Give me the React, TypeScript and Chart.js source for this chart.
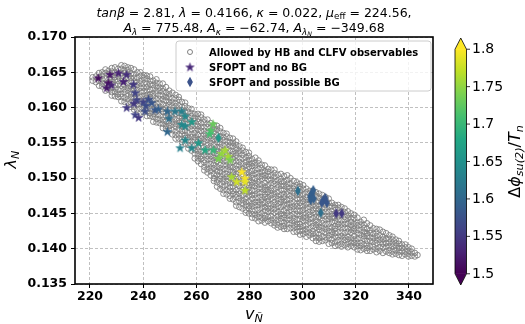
import React, { useEffect, useRef } from "react";
import { Chart, registerables } from "chart.js";
Chart.register(...registerables);

// ---------------- data ----------------
const xTicks = [220, 240, 260, 280, 300, 320, 340];
const yTicks = [0.135, 0.14, 0.145, 0.15, 0.155, 0.16, 0.165, 0.17];
const cbarTicks = [1.5, 1.55, 1.6, 1.65, 1.7, 1.75, 1.8];
const xRange = [214.36, 349.03];
const yRange = [0.135, 0.17];
const cRange = [1.5, 1.8];

const legendLabels = [
  "Allowed by HB and CLFV observables",
  "SFOPT and no BG",
  "SFOPT and possible BG",
];

// gray points (allowed by HB and CLFV), grouped by v column: [v, [lambda...]]
const grayA: [number, number[]][] = [
  [221.0, [.1638, .1643]],
  [222.2, [.1636, .1644]],
  [223.4, [.1631, .1638, .1643, .1649]],
  [224.6, [.163, .1634, .164, .1645, .165]],
  [225.8, [.1624, .1631, .1635, .1641, .1649, .1654]],
  [227.0, [.1625, .163, .1636, .164, .1647, .1652]],
  [228.2, [.1617, .1622, .1628, .1636, .164, .1646, .1651, .1656]],
  [229.4, [.1616, .1622, .1627, .1632, .1639, .1643, .1649, .1657]],
  [230.6, [.1615, .1619, .1625, .1633, .1638, .1644, .1648, .1655]],
  [231.8, [.1609, .1615, .1619, .1626, .1631, .1637, .1645, .1649, .1655, .166]],
  [233.0, [.1608, .1614, .1622, .1626, .1632, .1637, .1642, .1649, .1653, .1659]],
  [234.2, [.1607, .1612, .1617, .1624, .1628, .1634, .1642, .1647, .1653, .1657]],
  [235.4, [.1601, .1607, .1615, .162, .1626, .163, .1637, .1642, .1648, .1656]],
  [236.6, [.1597, .1601, .1608, .1613, .1619, .1627, .1631, .1637, .1642, .1647, .1654]],
  [237.8, [.1597, .1605, .1609, .1615, .162, .1625, .1632, .1636, .1642, .165]],
  [239.0, [.1593, .1598, .1605, .1609, .1615, .1623, .1628, .1634, .1638, .1645, .165]],
  [240.2, [.1593, .1601, .1606, .1612, .1616, .1623, .1628, .1634, .1642, .1646]],
  [241.4, [.1588, .1595, .16, .1606, .1614, .1618, .1624, .1629, .1634, .1641, .1645]],
  [242.6, [.1588, .1592, .1598, .1603, .1608, .1615, .1619, .1625, .1633, .1638, .1644]],
  [243.8, [.158, .1587, .1591, .1597, .1605, .161, .1616, .162, .1627, .1632, .1638]],
  [245.0, [.1579, .1584, .159, .1594, .1601, .1606, .1612, .162, .1624, .163, .1635, .164]],
  [246.2, [.1578, .1583, .1589, .1597, .1601, .1607, .1612, .1617, .1624, .1628, .1634]],
  [247.4, [.1571, .1577, .1582, .1587, .1594, .1598, .1604, .1612, .1617, .1623, .1627, .1634]],
  [248.6, [.157, .1574, .158, .1588, .1593, .1599, .1603, .161, .1615, .1621, .1629]],
  [249.8, [.1568, .1574, .1578, .1585, .159, .1596, .1604, .1608, .1614, .1619, .1624]],
];
const grayB: [number, number[]][] = [
  [251.0, [.1562, .1568, .1576, .158, .1586, .1591, .1596, .1603, .1607, .1613, .1621]],
  [252.2, [.1556, .1561, .1566, .1573, .1577, .1583, .1591, .1596, .1602, .1606, .1613, .1618]],
  [253.4, [.1556, .1562, .157, .1575, .1581, .1585, .1592, .1597, .1603, .1611, .1615]],
  [254.6, [.1551, .1555, .1562, .1567, .1573, .1581, .1585, .1591, .1596, .1601, .1608]],
  [255.8, [.1549, .1557, .1561, .1567, .1572, .1577, .1584, .1588, .1594, .1602, .1607]],
  [257.0, [.1542, .1547, .1554, .1558, .1564, .1572, .1577, .1583, .1587, .1594, .1599]],
  [258.2, [.1539, .1547, .1552, .1558, .1562, .1569, .1574, .158, .1588, .1592, .1598]],
  [259.4, [.1528, .1535, .154, .1546, .1554, .1558, .1564, .1569, .1574, .1581, .1585, .1591]],
  [260.6, [.1524, .1528, .1534, .1539, .1544, .1551, .1555, .1561, .1569, .1574, .158, .1584, .1591]],
  [261.8, [.152, .1527, .1531, .1537, .1545, .155, .1556, .156, .1567, .1572, .1578, .1586, .159]],
  [263.0, [.1511, .1516, .1522, .1526, .1533, .1538, .1544, .1552, .1556, .1562, .1567, .1572, .1579, .1583]],
  [264.2, [.1508, .1513, .1519, .1527, .1531, .1537, .1542, .1547, .1554, .1558, .1564, .1572, .1577, .1583]],
  [265.4, [.1504, .151, .1515, .152, .1527, .1531, .1537, .1545, .155, .1556, .156, .1567, .1572, .1578]],
  [266.6, [.1496, .15, .1506, .1514, .1519, .1525, .1529, .1536, .1541, .1547, .1555, .1559, .1565, .157, .1575]],
  [267.8, [.1488, .1494, .1498, .1505, .151, .1516, .1524, .1528, .1534, .1539, .1544, .1551, .1555, .1561, .1569, .1574]],
  [269.0, [.1485, .1491, .1499, .1503, .1509, .1514, .1519, .1526, .153, .1536, .1544, .1549, .1555, .1559, .1566, .1571]],
  [270.2, [.1478, .1483, .1488, .1495, .1499, .1505, .1513, .1518, .1524, .1528, .1535, .154, .1546, .1554, .1558, .1564]],
  [271.4, [.1477, .1483, .1491, .1496, .1502, .1506, .1513, .1518, .1524, .1532, .1536, .1542, .1547, .1552, .1559, .1563]],
  [272.6, [.1471, .1475, .1482, .1487, .1493, .1501, .1505, .1511, .1516, .1521, .1528, .1532, .1538, .1546, .1551, .1557]],
  [273.8, [.147, .1478, .1482, .1488, .1493, .1498, .1505, .1509, .1515, .1523, .1528, .1534, .1538, .1545, .155, .1556]],
  [275.0, [.1461, .1466, .1473, .1477, .1483, .1491, .1496, .1502, .1506, .1513, .1518, .1524, .1532, .1536, .1542, .1547, .1552]],
  [276.2, [.1459, .1467, .1472, .1478, .1482, .1489, .1494, .15, .1508, .1512, .1518, .1523, .1528, .1535, .1539, .1545]],
  [277.4, [.1457, .1464, .1469, .1475, .1483, .1487, .1493, .1498, .1503, .151, .1514, .152, .1528, .1533, .1539, .1543]],
  [278.6, [.1451, .1455, .1461, .1466, .1471, .1478, .1482, .1488, .1496, .1501, .1507, .1511, .1518, .1523, .1529, .1537]],
  [279.8, [.145, .1457, .1461, .1467, .1475, .148, .1486, .149, .1497, .1502, .1508, .1516, .152, .1526, .1531, .1536]],
];
const grayC: [number, number[]][] = [
  [281.0, [.1444, .1449, .1454, .146, .1464, .1471, .1476, .1482, .149, .1494, .15, .1505, .151, .1517, .1521, .1527]],
  [282.2, [.1443, .1448, .1454, .1462, .1466, .1472, .1477, .1482, .1489, .1493, .1499, .1507, .1512, .1518, .1522, .1529]],
  [283.4, [.1439, .1445, .145, .1455, .1462, .1466, .1472, .148, .1485, .1491, .1495, .1502, .1507, .1513, .1521, .1525]],
  [284.6, [.144, .1444, .145, .1458, .1463, .1469, .1473, .148, .1485, .1491, .1499, .1503, .1509, .1514, .1519]],
  [285.8, [.1437, .1443, .1447, .1454, .1459, .1465, .1473, .1477, .1483, .1488, .1493, .15, .1504, .151, .1518]],
  [287.0, [.1439, .1445, .1453, .1457, .1463, .1468, .1473, .148, .1484, .149, .1498, .1503, .1509, .1513]],
  [288.2, [.1436, .1441, .1446, .1453, .1457, .1463, .1471, .1476, .1482, .1486, .1493, .1498, .1504, .1512]],
  [289.4, [.1433, .1437, .1443, .1451, .1456, .1462, .1466, .1473, .1478, .1484, .1492, .1496, .1502, .1507, .1512]],
  [290.6, [.143, .1434, .1441, .1446, .1452, .146, .1464, .147, .1475, .148, .1487, .1491, .1497, .1505]],
  [291.8, [.1431, .1439, .1443, .1449, .1454, .1459, .1466, .147, .1476, .1484, .1489, .1495, .1499, .1506]],
  [293.0, [.1428, .1432, .1437, .1444, .1448, .1454, .1462, .1467, .1473, .1477, .1484, .1489, .1495, .1503]],
  [294.2, [.1428, .1436, .1441, .1447, .1451, .1458, .1463, .1469, .1477, .1481, .1487, .1492, .1497, .1504]],
  [295.4, [.1429, .1436, .1441, .1447, .1455, .1459, .1465, .147, .1475, .1482, .1486, .1492, .15]],
  [296.6, [.1424, .1429, .1433, .1439, .1444, .1449, .1456, .146, .1466, .1474, .1479, .1485, .1489, .1496]],
  [297.8, [.1424, .1431, .1435, .1441, .1449, .1454, .146, .1464, .1471, .1476, .1482, .149, .1494]],
  [299.0, [.142, .1425, .1431, .1435, .1442, .1447, .1453, .1461, .1465, .1471, .1476, .1481, .1488, .1492]],
  [300.2, [.1421, .1426, .1432, .144, .1444, .145, .1455, .146, .1467, .1471, .1477, .1485, .149]],
  [301.4, [.1417, .1423, .1428, .1433, .144, .1444, .145, .1458, .1463, .1469, .1473, .148, .1485]],
  [302.6, [.1419, .1423, .1429, .1437, .1442, .1448, .1452, .1459, .1464, .147, .1478, .1482]],
  [303.8, [.1415, .1421, .1425, .1432, .1437, .1443, .1451, .1455, .1461, .1466, .1471, .1478, .1482]],
  [305.0, [.1411, .1416, .1422, .143, .1434, .144, .1445, .145, .1457, .1461, .1467, .1475, .148]],
  [306.2, [.141, .1415, .142, .1427, .1431, .1437, .1445, .145, .1456, .146, .1467, .1472, .1478]],
  [307.4, [.1411, .1417, .1425, .143, .1436, .144, .1447, .1452, .1458, .1466, .147, .1476]],
  [308.6, [.1412, .1416, .1423, .1428, .1434, .1442, .1446, .1452, .1457, .1462, .1469, .1473]],
  [309.8, [.1407, .1415, .1419, .1425, .143, .1435, .1442, .1446, .1452, .146, .1465, .1471]],
];
const grayD: [number, number[]][] = [
  [311.0, [.1408, .1413, .142, .1424, .143, .1438, .1443, .1449, .1453, .146, .1465]],
  [312.2, [.1404, .1409, .1417, .1422, .1428, .1432, .1439, .1444, .145, .1458, .1462]],
  [313.4, [.1405, .1412, .1417, .1423, .1431, .1435, .1441, .1446, .1451, .1458, .1462]],
  [314.6, [.1403, .1407, .1413, .1418, .1423, .143, .1434, .144, .1448, .1453, .1459]],
  [315.8, [.1405, .1412, .1416, .1422, .143, .1435, .1441, .1445, .1452, .1457]],
  [317.0, [.1402, .1407, .1413, .1417, .1424, .1429, .1435, .1443, .1447, .1453]],
  [318.2, [.1404, .1409, .1415, .1423, .1427, .1433, .1438, .1443, .145]],
  [319.4, [.1402, .1408, .1413, .1418, .1425, .1429, .1435, .1443, .1448]],
  [320.6, [.1399, .1404, .1408, .1414, .1422, .1427, .1433, .1437, .1444]],
  [321.8, [.1398, .1404, .1408, .1415, .142, .1426, .1434, .1438]],
  [323.0, [.14, .1406, .1414, .1418, .1424, .1429, .1434, .1441]],
  [324.2, [.1397, .1401, .1406, .1411, .1418, .1422, .1428, .1436]],
  [325.4, [.1397, .1403, .1411, .1416, .1422, .1426, .1433]],
  [326.6, [.1399, .1403, .141, .1415, .1421, .1429]],
  [327.8, [.1395, .14, .1408, .1412, .1418, .1423, .1428]],
  [329.0, [.1397, .1402, .1409, .1413, .1419, .1427]],
  [330.2, [.1394, .1402, .1407, .1413, .1417, .1424]],
  [331.4, [.1396, .1403, .1408, .1414, .1422]],
  [332.6, [.1394, .1398, .1404, .1409, .1414, .1419]],
  [333.8, [.1392, .1396, .1403, .1407, .1413, .1417]],
  [335.0, [.1393, .1398, .1404, .1408, .1413]],
  [336.2, [.1391, .1396, .1401, .1407, .1411]],
  [337.4, [.139, .1396, .1401, .1406]],
  [338.6, [.1392, .1396, .1402, .1406]],
  [339.8, [.1389, .1393, .1397, .1402]],
  [341.0, [.139, .1395, .14]],
  [342.2, [.1389, .1394]],
  [343.2, [.1391]],
];

// SFOPT and no BG (stars)
const starV = [223.1, 227.5, 226.9, 226.3, 228.0, 230.7, 233.8, 232.6, 236.3, 237.0, 237.6, 236.5, 240.0, 242.0, 241.0, 233.8, 237.0, 238.3, 240.7, 243.2, 244.5, 245.7, 249.1, 249.7, 252.0, 254.5, 255.8, 258.3, 254.5, 255.8, 249.1, 255.8, 253.9, 258.3, 260.8, 263.3, 265.5, 266.3, 265.0, 266.4, 269.5, 270.8, 268.3, 272.0, 272.7, 273.3, 275.2, 277.1, 278.3, 278.3, 278.3];
const starL = [0.1642, 0.1647, 0.1635, 0.1628, 0.1632, 0.1649, 0.1647, 0.1637, 0.1633, 0.1621, 0.1611, 0.1606, 0.1608, 0.1612, 0.1603, 0.16, 0.159, 0.1586, 0.1595, 0.1607, 0.1597, 0.1598, 0.1595, 0.1585, 0.1595, 0.1595, 0.1588, 0.158, 0.1576, 0.1574, 0.1566, 0.1554, 0.1543, 0.1543, 0.155, 0.154, 0.1568, 0.1577, 0.1563, 0.154, 0.1535, 0.154, 0.1528, 0.1531, 0.1526, 0.1502, 0.1495, 0.1509, 0.15, 0.1495, 0.1483];
const starC = [1.51, 1.52, 1.51, 1.52, 1.53, 1.53, 1.54, 1.53, 1.55, 1.56, 1.56, 1.55, 1.56, 1.57, 1.57, 1.55, 1.56, 1.55, 1.57, 1.58, 1.58, 1.59, 1.6, 1.61, 1.62, 1.63, 1.64, 1.66, 1.64, 1.64, 1.6, 1.64, 1.63, 1.64, 1.66, 1.68, 1.72, 1.73, 1.71, 1.7, 1.75, 1.76, 1.74, 1.76, 1.74, 1.76, 1.78, 1.8, 1.8, 1.79, 1.77];

// SFOPT and possible BG (diamonds)
const diaV = [268.3, 298.2, 303.5, 302.8, 303.0, 304.2, 304.0, 307.8, 309.1, 307.2, 308.5, 306.8, 312.6, 314.7];
const diaL = [0.1557, 0.1482, 0.1479, 0.1474, 0.1469, 0.1471, 0.1483, 0.1469, 0.1465, 0.1465, 0.1472, 0.1451, 0.145, 0.145];
const diaC = [1.66, 1.61, 1.59, 1.59, 1.59, 1.59, 1.59, 1.58, 1.58, 1.58, 1.58, 1.61, 1.55, 1.55];

// ---------------- text ----------------
type Seg = { t: string; i?: boolean; l?: number };
const title1: Seg[] = [
  { t: "tanβ", i: true }, { t: " = 2.81, " }, { t: "λ", i: true }, { t: " = 0.4166, " },
  { t: "κ", i: true }, { t: " = 0.022, " }, { t: "μ", i: true }, { t: "eff", l: 1 }, { t: " = 224.56," },
];
const title2: Seg[] = [
  { t: "A", i: true }, { t: "λ", i: true, l: 1 }, { t: " = 775.48, " },
  { t: "A", i: true }, { t: "κ", i: true, l: 1 }, { t: " = −62.74, " },
  { t: "A", i: true }, { t: "λ", i: true, l: 1 }, { t: "N", i: true, l: 2 }, { t: " = −349.68" },
];
const xLabel: Seg[] = [{ t: "v", i: true }, { t: "Ñ", i: true, l: 1 }];
const yLabel: Seg[] = [{ t: "λ", i: true }, { t: "N", i: true, l: 1 }];
const cLabel: Seg[] = [{ t: "Δ" }, { t: "ϕ", i: true }, { t: "su(2)", i: true, l: 1 }, { t: "/" }, { t: "T", i: true }, { t: "n", i: true, l: 1 }];

// ---------------- helpers ----------------
const FONT = '"DejaVu Sans"';
const VIR = ["#440154", "#482475", "#414487", "#355f8d", "#2a788e", "#21918c", "#22a884", "#44bf70", "#7ad151", "#bddf26", "#fde725"];
function hex(h: string) {
  return [parseInt(h.slice(1, 3), 16), parseInt(h.slice(3, 5), 16), parseInt(h.slice(5, 7), 16)];
}
function viridis(t: number) {
  const u = Math.max(0, Math.min(1, t)) * 10;
  const i = Math.min(9, Math.floor(u));
  const f = u - i;
  const a = hex(VIR[i]);
  const b = hex(VIR[i + 1]);
  const c = a.map((v, k) => Math.round(v + (b[k] - v) * f));
  return `rgb(${c[0]},${c[1]},${c[2]})`;
}
const cNorm = (v: number) => (v - cRange[0]) / (cRange[1] - cRange[0]);

const cache = new Map<string, HTMLCanvasElement>();
function starMarker(color: string) {
  const key = "s" + color;
  const hit = cache.get(key);
  if (hit) return hit;
  const c = document.createElement("canvas");
  c.width = 11;
  c.height = 11;
  const g = c.getContext("2d")!;
  const R = 4.4, r = R * 0.382, cx = 5.5, cy = 5.9;
  g.beginPath();
  for (let k = 0; k < 10; k++) {
    const ang = -Math.PI / 2 + (k * Math.PI) / 5;
    const rr = k % 2 === 0 ? R : r;
    g.lineTo(cx + rr * Math.cos(ang), cy + rr * Math.sin(ang));
  }
  g.closePath();
  g.fillStyle = color;
  g.fill();
  g.strokeStyle = color;
  g.lineWidth = 0.6;
  g.stroke();
  cache.set(key, c);
  return c;
}
function diamondMarker(color: string) {
  const key = "d" + color;
  const hit = cache.get(key);
  if (hit) return hit;
  const c = document.createElement("canvas");
  c.width = 8;
  c.height = 12;
  const g = c.getContext("2d")!;
  g.beginPath();
  g.moveTo(4, 0.8);
  g.lineTo(6.9, 6);
  g.lineTo(4, 11.2);
  g.lineTo(1.1, 6);
  g.closePath();
  g.fillStyle = color;
  g.fill();
  cache.set(key, c);
  return c;
}

function segFont(s: Seg, size: number) {
  const lv = s.l || 0;
  const sz = size * (lv === 0 ? 1 : lv === 1 ? 0.7 : 0.5);
  return `${s.i ? "italic " : ""}${sz}px ${FONT}`;
}
function segShift(s: Seg, size: number) {
  const lv = s.l || 0;
  return lv === 0 ? 0 : lv === 1 ? 0.2 * size : 0.33 * size;
}
function drawRich(ctx: CanvasRenderingContext2D, segs: Seg[], x: number, y: number, size: number, align: "center" | "left") {
  let w = 0;
  for (const s of segs) {
    ctx.font = segFont(s, size);
    w += ctx.measureText(s.t).width;
  }
  let cx = align === "center" ? x - w / 2 : x;
  ctx.textAlign = "left";
  ctx.textBaseline = "alphabetic";
  for (const s of segs) {
    ctx.font = segFont(s, size);
    ctx.fillText(s.t, cx, y + segShift(s, size));
    cx += ctx.measureText(s.t).width;
  }
}

const decoPlugin = {
  id: "deco",
  afterDraw(chart: any) {
    const ctx: CanvasRenderingContext2D = chart.ctx;
    const a = chart.chartArea;
    const midX = (a.left + a.right) / 2;
    const midY = (a.top + a.bottom) / 2;
    ctx.save();
    ctx.fillStyle = "#000";

    // frame
    ctx.strokeStyle = "#000";
    ctx.lineWidth = 1.6;
    ctx.strokeRect(a.left, a.top, a.right - a.left, a.bottom - a.top);

    // title
    drawRich(ctx, title1, midX, 16.7, 12.5, "center");
    drawRich(ctx, title2, midX, 32.2, 12.5, "center");

    // axis labels
    drawRich(ctx, xLabel, midX, 318.5, 16, "center");
    ctx.save();
    ctx.translate(15.5, midY - 1);
    ctx.rotate(-Math.PI / 2);
    drawRich(ctx, yLabel, 0, 0, 16, "center");
    ctx.restore();

    // legend
    const lx = 176, ly = 41, lw = 255, lh = 50;
    ctx.beginPath();
    ctx.roundRect(lx, ly, lw, lh, 3);
    ctx.fillStyle = "rgba(255,255,255,0.8)";
    ctx.fill();
    ctx.strokeStyle = "#cccccc";
    ctx.lineWidth = 1;
    ctx.stroke();
    const rows = [52, 67, 82];
    ctx.beginPath();
    ctx.arc(190, rows[0], 2.5, 0, Math.PI * 2);
    ctx.strokeStyle = "#808080";
    ctx.lineWidth = 1;
    ctx.stroke();
    const sm = starMarker("#482878");
    ctx.drawImage(sm, 190 - sm.width / 2, rows[1] - sm.height / 2);
    const dm = diamondMarker("#3b528b");
    ctx.drawImage(dm, 190 - dm.width / 2, rows[2] - dm.height / 2);
    ctx.fillStyle = "#000";
    ctx.font = `bold 10px ${FONT}`;
    ctx.textAlign = "left";
    ctx.textBaseline = "alphabetic";
    legendLabels.forEach((t, k) => ctx.fillText(t, 209, rows[k] + 3.7));

    // colorbar
    const x0 = 455, x1 = 466.5, tipT = 38, tipB = 285;
    const ext = (tipB - tipT) * (0.05 / 1.1);
    const bT = tipT + ext, bB = tipB - ext;
    const mx = (x0 + x1) / 2;
    const grad = ctx.createLinearGradient(0, bB, 0, bT);
    VIR.forEach((c, k) => grad.addColorStop(k / 10, c));
    ctx.fillStyle = grad;
    ctx.fillRect(x0, bT, x1 - x0, bB - bT);
    ctx.beginPath();
    ctx.moveTo(x0, bT + 0.5); ctx.lineTo(mx, tipT); ctx.lineTo(x1, bT + 0.5); ctx.closePath();
    ctx.fillStyle = VIR[10];
    ctx.fill();
    ctx.beginPath();
    ctx.moveTo(x0, bB - 0.5); ctx.lineTo(mx, tipB); ctx.lineTo(x1, bB - 0.5); ctx.closePath();
    ctx.fillStyle = VIR[0];
    ctx.fill();
    ctx.beginPath();
    ctx.moveTo(x0, bT); ctx.lineTo(mx, tipT); ctx.lineTo(x1, bT); ctx.lineTo(x1, bB);
    ctx.lineTo(mx, tipB); ctx.lineTo(x0, bB); ctx.closePath();
    ctx.strokeStyle = "#000";
    ctx.lineWidth = 0.8;
    ctx.stroke();
    ctx.fillStyle = "#000";
    ctx.font = `14px ${FONT}`;
    ctx.textBaseline = "middle";
    ctx.textAlign = "left";
    for (const v of cbarTicks) {
      const y = bB - cNorm(v) * (bB - bT);
      ctx.beginPath();
      ctx.moveTo(x1, y);
      ctx.lineTo(x1 + 3.5, y);
      ctx.stroke();
      ctx.fillText(String(v), x1 + 5.5, y + 0.5);
    }
    ctx.save();
    ctx.translate(519.5, (tipT + tipB) / 2);
    ctx.rotate(-Math.PI / 2);
    drawRich(ctx, cLabel, 0, 0, 16, "center");
    ctx.restore();

    ctx.restore();
  },
};

export default function App() {
  const ref = useRef<HTMLCanvasElement>(null);
  useEffect(() => {
    const canvas = ref.current!;
    const cols = [...grayA, ...grayB, ...grayC, ...grayD];
    const grayPts = cols.flatMap(([v, ls]) => ls.map((l) => ({ x: v, y: l })));
    const starPts = starV.map((v, i) => ({ x: v, y: starL[i] }));
    const diaPts = diaV.map((v, i) => ({ x: v, y: diaL[i] }));
    const tickFont = { family: "DejaVu Sans", size: 12.5, weight: "bold" as const };
    const chart = new Chart(canvas, {
      type: "scatter",
      data: {
        datasets: [
          {
            label: legendLabels[0],
            data: grayPts,
            order: 3,
            pointStyle: "circle",
            pointRadius: 2.8,
            pointBorderWidth: 0.9,
            pointBorderColor: "#808080",
            pointBackgroundColor: "rgba(0,0,0,0)",
          },
          {
            label: legendLabels[1],
            data: starPts,
            order: 2,
            pointRadius: 4,
            pointStyle: (c: any) => starMarker(viridis(cNorm(starC[c.dataIndex] ?? 1.5))),
          } as any,
          {
            label: legendLabels[2],
            data: diaPts,
            order: 1,
            pointRadius: 4,
            pointStyle: (c: any) => diamondMarker(viridis(cNorm(diaC[c.dataIndex] ?? 1.5))),
          } as any,
        ],
      },
      options: {
        animation: false,
        responsive: false,
        devicePixelRatio: 1,
        events: [],
        layout: { padding: { left: 0, right: 92, top: 37, bottom: 0 } },
        plugins: { legend: { display: false }, tooltip: { enabled: false }, title: { display: false } },
        scales: {
          x: {
            type: "linear",
            min: xRange[0],
            max: xRange[1],
            afterBuildTicks: (s: any) => { s.ticks = xTicks.map((v) => ({ value: v })); },
            afterFit: (s: any) => { s.height = 40; },
            ticks: { font: tickFont, color: "#000", padding: 1, maxRotation: 0, autoSkip: false, callback: (v: any) => String(v) },
            grid: { color: "#b0b0b0", lineWidth: 0.8, tickColor: "#000", tickLength: 4, tickWidth: 1 },
            border: { display: false, dash: [3, 2] },
          },
          y: {
            type: "linear",
            min: yRange[0],
            max: yRange[1],
            afterBuildTicks: (s: any) => { s.ticks = yTicks.map((v) => ({ value: v })); },
            afterFit: (s: any) => { s.width = 75; },
            ticks: { font: tickFont, color: "#000", padding: 4, autoSkip: false, callback: (v: any) => Number(v).toFixed(3) },
            grid: { color: "#b0b0b0", lineWidth: 0.8, tickColor: "#000", tickLength: 4, tickWidth: 1 },
            border: { display: false, dash: [3, 2] },
          },
        },
      },
      plugins: [decoPlugin],
    });
    return () => chart.destroy();
  }, []);
  return (
    <div style={{ position: "fixed", left: 0, top: 0, width: 525, height: 324, background: "#fff" }}>
      <canvas ref={ref} width={525} height={324} style={{ display: "block", width: 525, height: 324 }} />
    </div>
  );
}
